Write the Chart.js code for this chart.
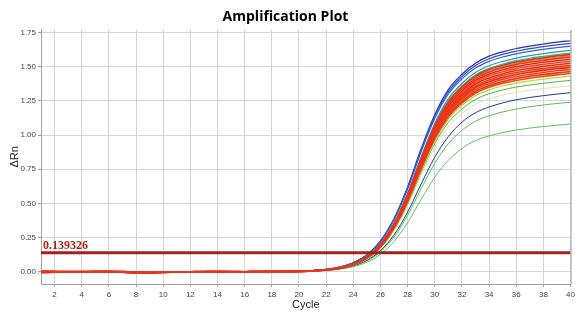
<!DOCTYPE html>
<html>
<head>
<meta charset="utf-8">
<script src="https://cdn.jsdelivr.net/npm/chart.js@4.4.1/dist/chart.umd.min.js"></script>
<style>
  html, body { margin: 0; padding: 0; background: #fff; }
  #wrap { width: 578px; height: 334px; }
</style>
</head>
<body>
<div id="wrap"><canvas id="amp"></canvas></div>
<script>
// cycle numbers and axis ticks
const cycles = [1,2,3,4,5,6,7,8,9,10,11,12,13,14,15,16,17,18,19,20,
                21,22,23,24,25,26,27,28,29,30,31,32,33,34,35,36,37,38,39,40];
const xTicks = [2,4,6,8,10,12,14,16,18,20,22,24,26,28,30,32,34,36,38,40];
const yTicks = [0, 0.25, 0.5, 0.75, 1, 1.25, 1.5, 1.75];
const thresholdValue = 0.139326;

// baseline-corrected delta Rn, cycles 1-20
const baseA = [-0.004,-0.003,-0.002,-0.001,0.000,-0.001,-0.004,-0.007,-0.006,-0.003,-0.001,0.000,0.000,0.000,0.000,0.000,0.001,0.001,0.002,0.003];
const baseB = [0.003,0.002,0.001,0.001,0.002,0.002,0.001,-0.003,-0.005,-0.003,-0.001,0.000,0.001,0.001,0.000,0.000,0.000,0.001,0.001,0.002];
const baseC = [-0.006,-0.004,-0.003,-0.001,0.001,0.001,-0.002,-0.005,-0.008,-0.006,-0.002,-0.001,0.000,0.001,0.001,0.000,0.001,0.001,0.002,0.002];

// delta Rn, cycles 21-40, one array per well
const ampBlue1 = [0.008,0.017,0.034,0.066,0.123,0.225,0.389,0.620,0.901,1.149,1.332,1.445,1.526,1.577,1.609,1.633,1.651,1.666,1.680,1.690];
const ampBlue2 = [0.008,0.017,0.033,0.065,0.122,0.222,0.384,0.613,0.890,1.136,1.316,1.428,1.508,1.558,1.590,1.613,1.632,1.647,1.660,1.670];
const ampBlue3 = [0.007,0.017,0.033,0.064,0.120,0.219,0.380,0.606,0.879,1.122,1.300,1.411,1.490,1.539,1.571,1.594,1.612,1.627,1.640,1.650];
const ampTeal1 = [0.006,0.015,0.029,0.058,0.110,0.203,0.356,0.575,0.842,1.085,1.264,1.377,1.458,1.507,1.539,1.563,1.581,1.596,1.609,1.620];
const ampTeal2 = [0.006,0.014,0.029,0.058,0.109,0.200,0.352,0.568,0.832,1.072,1.248,1.360,1.440,1.488,1.520,1.544,1.562,1.576,1.589,1.600];
const ampGreen1 = [0.006,0.014,0.028,0.057,0.107,0.198,0.348,0.561,0.822,1.059,1.232,1.343,1.422,1.469,1.501,1.525,1.542,1.556,1.569,1.580];
const ampRed1 = [0.006,0.014,0.029,0.057,0.108,0.199,0.350,0.564,0.827,1.065,1.240,1.352,1.431,1.479,1.511,1.534,1.552,1.566,1.579,1.590];
const ampRed2 = [0.006,0.014,0.028,0.057,0.107,0.196,0.345,0.557,0.816,1.052,1.225,1.335,1.413,1.460,1.492,1.515,1.532,1.546,1.559,1.570];
const ampRed3 = [0.006,0.014,0.028,0.056,0.106,0.194,0.342,0.552,0.809,1.042,1.213,1.322,1.400,1.446,1.477,1.501,1.518,1.532,1.544,1.555];
const ampRed4 = [0.006,0.014,0.028,0.055,0.105,0.193,0.339,0.547,0.801,1.032,1.201,1.309,1.386,1.432,1.463,1.486,1.503,1.517,1.529,1.540];
const ampRed5 = [0.006,0.014,0.027,0.055,0.104,0.191,0.336,0.541,0.793,1.022,1.190,1.296,1.373,1.418,1.449,1.472,1.488,1.502,1.514,1.525];
const ampRed6 = [0.006,0.014,0.027,0.054,0.103,0.189,0.332,0.536,0.785,1.012,1.178,1.284,1.359,1.404,1.435,1.457,1.474,1.487,1.499,1.510];
const ampRed7 = [0.006,0.013,0.027,0.054,0.102,0.187,0.329,0.531,0.777,1.002,1.166,1.271,1.346,1.390,1.420,1.443,1.459,1.473,1.485,1.495];
const ampRed8 = [0.006,0.013,0.027,0.053,0.101,0.185,0.326,0.525,0.770,0.992,1.154,1.258,1.332,1.376,1.406,1.428,1.444,1.458,1.470,1.480];
const ampRed9 = [0.006,0.013,0.026,0.053,0.100,0.183,0.322,0.520,0.762,0.982,1.143,1.245,1.319,1.362,1.392,1.414,1.430,1.443,1.455,1.465];
const ampRed10 = [0.006,0.013,0.026,0.052,0.099,0.181,0.319,0.515,0.754,0.972,1.131,1.233,1.305,1.349,1.378,1.399,1.415,1.428,1.440,1.450];
const ampOrange1 = [0.006,0.014,0.028,0.057,0.107,0.197,0.347,0.559,0.819,1.055,1.229,1.339,1.418,1.465,1.496,1.520,1.537,1.551,1.564,1.575];
const ampOrange2 = [0.006,0.014,0.027,0.054,0.102,0.188,0.330,0.533,0.780,1.005,1.170,1.275,1.350,1.395,1.425,1.448,1.464,1.478,1.490,1.500];
const ampYellow = [0.006,0.013,0.026,0.053,0.099,0.183,0.321,0.518,0.759,0.978,1.139,1.241,1.314,1.358,1.387,1.409,1.425,1.438,1.450,1.460];
const ampLime = [0.006,0.013,0.026,0.051,0.097,0.179,0.315,0.508,0.744,0.958,1.115,1.216,1.287,1.330,1.359,1.380,1.396,1.409,1.420,1.430];
const ampGreen2 = [0.006,0.013,0.025,0.050,0.095,0.175,0.308,0.497,0.728,0.938,1.092,1.190,1.260,1.302,1.330,1.351,1.366,1.379,1.390,1.400];
const ampPale = [0.005,0.012,0.024,0.049,0.092,0.170,0.299,0.483,0.707,0.911,1.061,1.156,1.224,1.265,1.292,1.312,1.327,1.340,1.350,1.360];
const ampNavy = [0.005,0.011,0.022,0.045,0.084,0.154,0.269,0.436,0.642,0.838,0.989,1.094,1.163,1.205,1.235,1.258,1.275,1.288,1.300,1.310];
const ampGreen3 = [0.005,0.011,0.021,0.042,0.079,0.146,0.254,0.412,0.608,0.794,0.936,1.035,1.101,1.141,1.169,1.190,1.207,1.220,1.231,1.240];
const ampGreen4 = [0.004,0.009,0.018,0.037,0.069,0.127,0.221,0.359,0.529,0.691,0.815,0.902,0.959,0.994,1.018,1.037,1.051,1.062,1.072,1.080];

// [baseline, amplification, colour, width] - first entry is drawn on top
const wells = [
  [baseA, ampRed1, '#e8321c', 1.6],
  [baseB, ampRed2, '#f03a1e', 1.6],
  [baseC, ampRed3, '#e2261a', 1.6],
  [baseA, ampRed4, '#f2461f', 1.6],
  [baseB, ampRed5, '#e42d17', 1.6],
  [baseC, ampRed6, '#ee3d1b', 1.6],
  [baseA, ampRed7, '#e5301b', 1.6],
  [baseB, ampRed8, '#f0411f', 1.6],
  [baseC, ampRed9, '#e8351a', 1.6],
  [baseA, ampRed10, '#f24a22', 1.6],
  [baseC, ampOrange1, '#f7931e', 1.2],
  [baseA, ampOrange2, '#f9a825', 1.2],
  [baseB, ampYellow, '#e8d225', 1.2],
  [baseC, ampLime, '#b9d63a', 1.2],
  [baseA, ampGreen1, '#3fae49', 1.2],
  [baseB, ampTeal1, '#1fa0ad', 1.2],
  [baseC, ampTeal2, '#2cb39a', 1.2],
  [baseA, ampBlue3, '#3360d4', 1.2],
  [baseB, ampBlue2, '#3a4ccc', 1.2],
  [baseC, ampBlue1, '#2430b4', 1.2],
  [baseA, ampGreen2, '#4cb84c', 1],
  [baseB, ampPale, '#d8e6a0', 1],
  [baseC, ampNavy, '#1f3a93', 1],
  [baseA, ampGreen3, '#55c055', 1],
  [baseB, ampGreen4, '#5cc45c', 1]
];

const datasets = [{
  data: [{x: cycles[0], y: thresholdValue}, {x: cycles[cycles.length - 1], y: thresholdValue}],
  borderColor: '#a3201c',
  borderWidth: 3,
  pointRadius: 0
}];
wells.forEach(function (w) {
  const values = w[0].concat(w[1]);
  datasets.push({
    data: cycles.map(function (c, i) { return {x: c, y: values[i]}; }),
    borderColor: w[2],
    borderWidth: w[3],
    pointRadius: 0,
    cubicInterpolationMode: 'monotone'
  });
});

// threshold value text and the right-hand frame line
const extras = {
  id: 'extras',
  afterDatasetsDraw(chart) {
    const ctx = chart.ctx;
    const a = chart.chartArea;
    const y = chart.scales.y.getPixelForValue(thresholdValue);
    ctx.save();
    ctx.font = 'bold 12px "Liberation Serif", serif';
    ctx.fillStyle = '#b01e1e';
    ctx.textBaseline = 'bottom';
    ctx.fillText(thresholdValue.toString(), a.left + 2, y - 1);
    ctx.strokeStyle = '#a0a0a0';
    ctx.lineWidth = 1;
    ctx.beginPath();
    ctx.moveTo(a.right + 0.5, a.top);
    ctx.lineTo(a.right + 0.5, a.bottom);
    ctx.stroke();
    ctx.restore();
  }
};

const gridStyle = {
  color: '#d6d6d6',
  borderDash: [2, 2],
  tickColor: '#a0a0a0',
  tickLength: 3,
  tickBorderDash: []
};

new Chart(document.getElementById('amp'), {
  type: 'line',
  data: {datasets: datasets},
  options: {
    responsive: true,
    maintainAspectRatio: false,
    animation: false,
    layout: {padding: {right: 7}},
    plugins: {
      legend: {display: false},
      tooltip: {enabled: false},
      title: {
        display: true,
        text: 'Amplification Plot',
        color: '#000',
        font: {family: '"Open Sans", sans-serif', size: 14, weight: 'bold'},
        padding: {top: 9, bottom: 4}
      }
    },
    scales: {
      x: {
        type: 'linear',
        min: 1,
        max: 40,
        afterBuildTicks(scale) { scale.ticks = xTicks.map(v => ({value: v})); },
        afterFit(scale) { scale.height = 50; },
        grid: gridStyle,
        border: {color: '#a0a0a0', width: 1},
        ticks: {color: '#444', font: {family: 'Arial, "Liberation Sans", sans-serif', size: 8}, maxRotation: 0, padding: 3},
        title: {display: true, text: 'Cycle', color: '#222',
                font: {family: 'Arial, "Liberation Sans", sans-serif', size: 11}, padding: {top: 0, bottom: 22}}
      },
      y: {
        min: -0.09,
        max: 1.77,
        afterBuildTicks(scale) { scale.ticks = yTicks.map(v => ({value: v})); },
        afterFit(scale) { scale.width = 41; },
        grid: gridStyle,
        border: {color: '#a0a0a0', width: 1},
        ticks: {color: '#444', font: {family: 'Arial, "Liberation Sans", sans-serif', size: 8}, padding: 2,
                callback: v => v.toFixed(2)},
        title: {display: true, text: 'ΔRn', color: '#222',
                font: {family: 'Arial, "Liberation Sans", sans-serif', size: 11}, padding: {top: 8, bottom: 0}}
      }
    }
  },
  plugins: [extras]
});
</script>
</body>
</html>
